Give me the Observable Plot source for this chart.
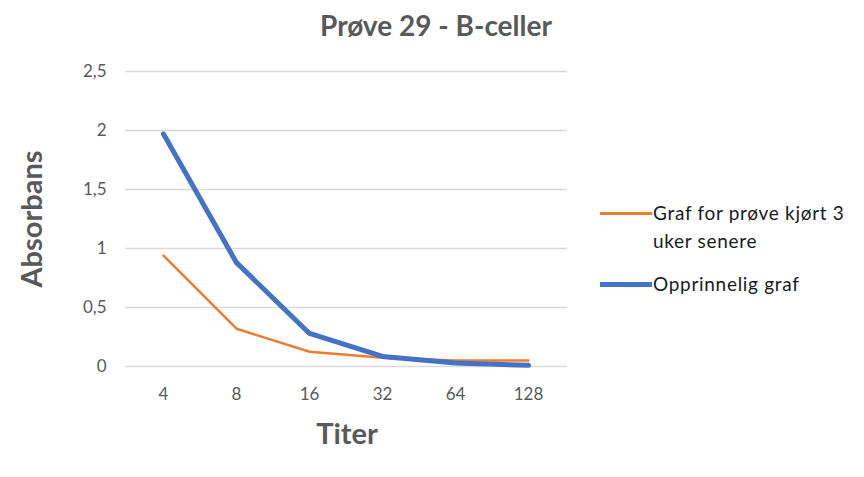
<!DOCTYPE html>
<html>
<head>
<meta charset="utf-8">
<script src="https://cdn.jsdelivr.net/npm/d3@7"></script>
<script src="https://cdn.jsdelivr.net/npm/@observablehq/plot@0.6"></script>
<style>
  html, body { margin: 0; padding: 0; background: #fff; }
  #wrap { position: relative; width: 864px; height: 477px; font-family: Lato, "Open Sans", sans-serif; }
  .abs { position: absolute; white-space: nowrap; }
  #title { left: 436px; top: 25px; transform: translate(-50%, -50%); font-size: 28px; font-weight: bold; color: #595959; }
  #ylab { left: 30px; top: 219px; transform: translate(-50%, -50%) rotate(-90deg); font-size: 29px; font-weight: bold; color: #595959; }
  #xlab { left: 347px; top: 432px; transform: translate(-50%, -50%); font-size: 29px; font-weight: bold; color: #595959; }
  .leg { font-size: 19px; letter-spacing: 0.7px; color: #1a1a1a; line-height: 28px; }
  .sw { position: absolute; height: 0; }
</style>
</head>
<body>
<div id="wrap">
  <div id="chart"></div>
  <div id="title" class="abs">Prøve 29 - B-celler</div>
  <div id="ylab" class="abs">Absorbans</div>
  <div id="xlab" class="abs">Titer</div>
  <div class="sw" style="left:600px; top:212px; width:52px; border-top:3px solid #ed7d31;"></div>
  <div class="abs leg" style="left:653px; top:199px;">Graf for prøve kjørt 3<br>uker senere</div>
  <div class="sw" style="left:600px; top:282px; width:52px; border-top:5px solid #4472c4;"></div>
  <div class="abs leg" style="left:653px; top:270px;">Opprinnelig graf</div>
</div>
<script>
const titers = ["4", "8", "16", "32", "64", "128"];
const original = [1.97, 0.88, 0.28, 0.085, 0.03, 0.01];
const later = [0.94, 0.32, 0.125, 0.075, 0.05, 0.05];
const yTicks = [0, 0.5, 1, 1.5, 2, 2.5];

const origData = titers.map((t, i) => ({titer: t, value: original[i]}));
const laterData = titers.map((t, i) => ({titer: t, value: later[i]}));

const chart = Plot.plot({
  width: 864,
  height: 477,
  marginLeft: 125,
  marginRight: 297,
  marginTop: 71,
  marginBottom: 111,
  style: {fontFamily: "Lato, 'Open Sans', sans-serif", fontSize: "17px", color: "#595959", background: "#fff"},
  x: {type: "point", domain: titers, padding: 0, range: [161, 530], label: null},
  y: {domain: [0, 2.5], label: null},
  marks: [
    Plot.gridY(yTicks, {stroke: "#d9d9d9", strokeOpacity: 1, strokeWidth: 1.5}),
    Plot.axisY(yTicks, {tickSize: 0, tickPadding: 19, tickFormat: d => String(d).replace(".", ","), fill: "#595959", fontSize: 17, label: null}),
    Plot.axisX({tickSize: 0, tickPadding: 21, fill: "#595959", fontSize: 17, label: null}),
    Plot.line(laterData, {x: "titer", y: "value", stroke: "#ed7d31", strokeWidth: 2.5}),
    Plot.line(origData, {x: "titer", y: "value", stroke: "#4472c4", strokeWidth: 5})
  ]
});
document.getElementById("chart").appendChild(chart);
</script>
</body>
</html>
